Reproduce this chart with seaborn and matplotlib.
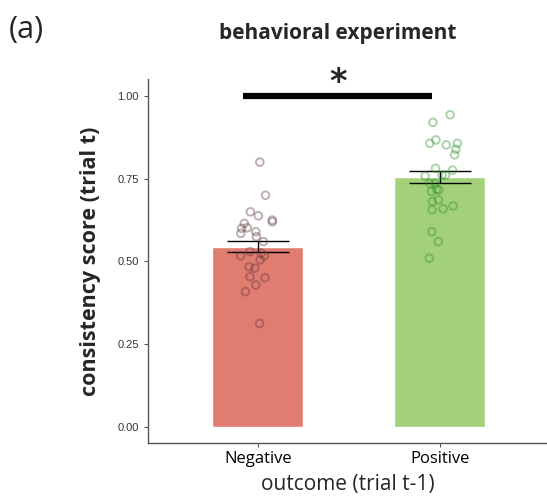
import numpy as np
import pandas as pd
import matplotlib
matplotlib.use("Agg")
import matplotlib.pyplot as plt
import seaborn as sns

# data
outcomes = ["Negative", "Positive"]
bar_means = [0.545, 0.755]
bar_sems = [0.0175, 0.018]
bar_colors = ["#e07c70", "#a3d17a"]
point_colors = ["#5e3b3b", "#2f8f2f"]

neg_scores = [0.80, 0.70, 0.65, 0.638, 0.625, 0.62, 0.615, 0.602, 0.60, 0.59,
              0.585, 0.575, 0.56, 0.53, 0.517, 0.525, 0.517, 0.505, 0.484,
              0.48, 0.454, 0.451, 0.429, 0.409, 0.313]
pos_scores = [0.943, 0.92, 0.857, 0.867, 0.839, 0.857, 0.852, 0.822, 0.776,
              0.781, 0.758, 0.761, 0.761, 0.736, 0.736, 0.718, 0.716, 0.711,
              0.681, 0.686, 0.668, 0.659, 0.656, 0.59, 0.56, 0.51]

yticks = [0.00, 0.25, 0.50, 0.75, 1.00]

bars = pd.DataFrame({"outcome": outcomes, "score": bar_means})
points = pd.DataFrame({
    "outcome": ["Negative"] * len(neg_scores) + ["Positive"] * len(pos_scores),
    "score": neg_scores + pos_scores,
})

sns.set_style("white")

fig = plt.figure(figsize=(5.47, 5.00), dpi=100)
ax = fig.add_axes([0.2706, 0.114, 0.73, 0.728])

sns.barplot(data=bars, x="outcome", y="score", hue="outcome",
            palette=bar_colors, width=0.5, errorbar=None, legend=False,
            saturation=1, ax=ax)

ax.errorbar(range(len(outcomes)), bar_means, yerr=bar_sems, fmt="none",
            ecolor="black", elinewidth=1, capsize=22, capthick=1, zorder=4)

np.random.seed(3)
sns.stripplot(data=points, x="outcome", y="score", hue="outcome",
              palette=point_colors, jitter=0.1, size=5.5, legend=False,
              ax=ax, zorder=5)
for coll, col in zip(ax.collections[-2:], point_colors):
    coll.set_facecolor("none")
    coll.set_edgecolor(col)
    coll.set_linewidth(1.4)
    coll.set_alpha(0.4)

# significance bar
ax.plot([-0.08, 0.955], [1.0, 1.0], color="black", lw=4.5, solid_capstyle="butt")
ax.text(0.44, 0.992, "*", ha="center", va="bottom", fontsize=24,
        fontweight="bold", family="DejaVu Sans")

ax.set_xlim(-0.604, 1.59)
ax.set_ylim(-0.048, 1.051)
ax.set_yticks(yticks)
ax.set_yticklabels([f"{v:.2f}" for v in yticks], family="Liberation Sans",
                   fontsize=8, color="#333333")
ax.set_xticks(range(len(outcomes)))
ax.set_xticklabels(outcomes, family="Open Sans", fontsize=12, color="black")
ax.tick_params(axis="both", length=3, width=0.8, color="#555555",
               left=True, bottom=True)
ax.tick_params(axis="x", pad=3)

sns.despine(ax=ax)
for s in ["left", "bottom"]:
    ax.spines[s].set_color("#555555")
    ax.spines[s].set_linewidth(1)

ax.set_xlabel("outcome (trial t-1)", family="Open Sans", fontsize=15, labelpad=5)
ax.set_ylabel("consistency score (trial t)", family="Open Sans", fontsize=15.5,
              fontweight="bold", labelpad=12)

fig.text(0.618, 0.932, "behavioral experiment", ha="center", va="center",
         family="Open Sans", fontsize=15, fontweight="bold")
fig.text(0.016, 0.94, "(a)", ha="left", va="center", family="Open Sans",
         fontsize=22)

fig.savefig("out.png", dpi=100)
